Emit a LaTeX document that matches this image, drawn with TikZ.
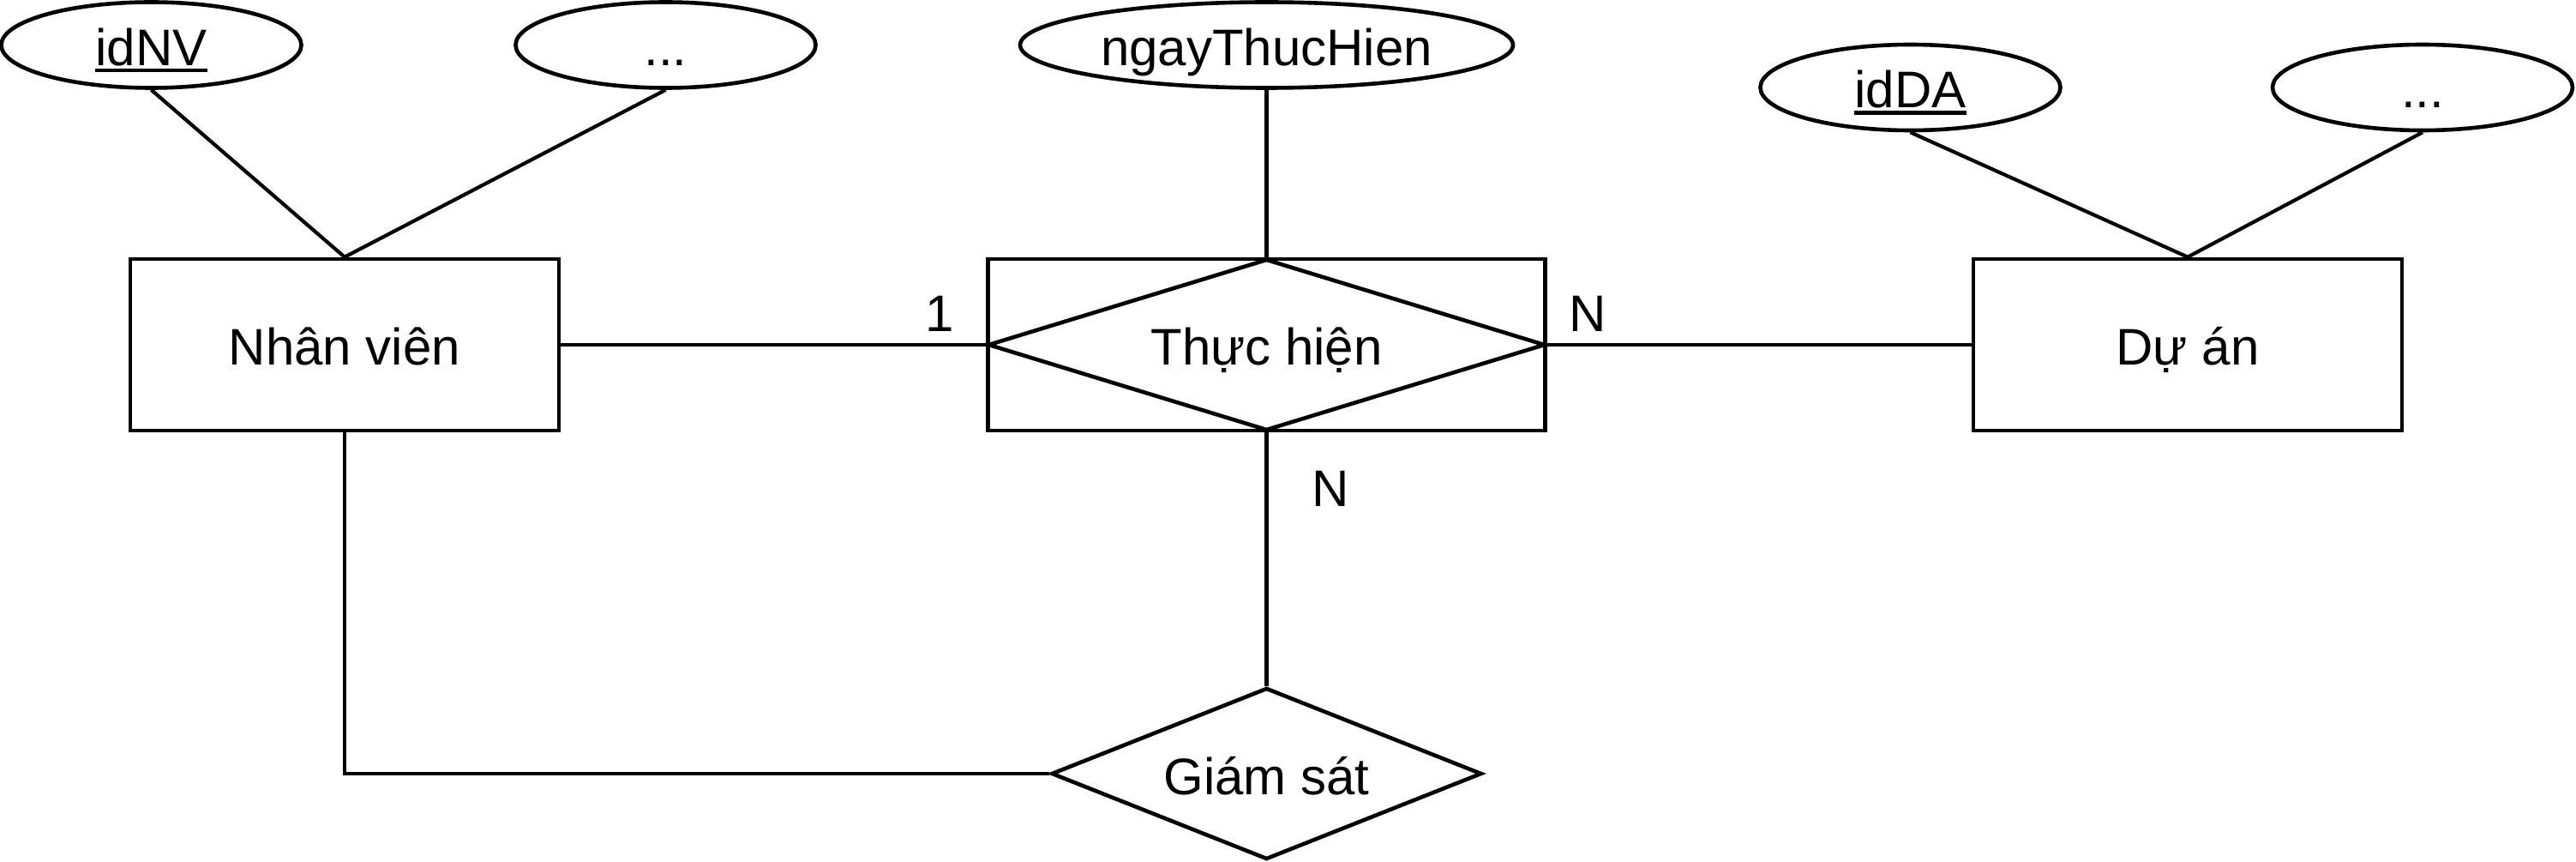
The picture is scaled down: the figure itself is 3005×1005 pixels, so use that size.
\documentclass[tikz,border=0pt]{standalone}
\usepackage{fontspec}
\setmainfont{Liberation Sans}
\usetikzlibrary{shapes.geometric}
\newcommand\pkey[1]{\setbox0=\hbox{#1}\rlap{\rule[-4pt]{\wd0}{2.25pt}}\box0}
\tikzset{
  lbl/.style={font=\fontsize{30pt}{36pt}\selectfont, text height=24pt, text depth=0pt, inner sep=0pt},
  entity/.style={lbl, draw, line width=2.3pt, rectangle, minimum width=250pt, minimum height=100pt},
  attr/.style={lbl, draw, line width=2.3pt, ellipse, minimum width=175pt, minimum height=50pt},
  rel/.style={lbl, draw, line width=2.3pt, diamond, aspect=2.5},
  conn/.style={line width=2.1pt},
  card/.style={lbl}
}
\begin{document}
\begin{tikzpicture}[x=0.5pt,y=-0.5pt]
\useasboundingbox (0,0) rectangle (3005,1005);
% entities
\node[entity] (nv) at (402,402) {Nhân viên};
\node[entity, minimum width=325pt] (th) at (1477.5,402) {};
\node[rel, minimum width=325pt, minimum height=100pt] (thd) at (1477.5,402) {Thực hiện};
\node[entity] (da) at (2552,402) {Dự án};
\node[rel, minimum width=251pt, minimum height=100pt] (gs) at (1477.5,902) {Giám sát};
% attributes
\node[attr] (idnv) at (176.5,52.5) {\pkey{idNV}};
\node[attr] (nvmore) at (776.5,52.5) {...};
\node[attr, minimum width=287.5pt] (ngay) at (1477.5,52.5) {ngayThucHien};
\node[attr] (idda) at (2228.5,102) {\pkey{idDA}};
\node[attr] (damore) at (2826,102) {...};
% connectors
\draw[conn] (idnv.south) -- (nv.north);
\draw[conn] (nvmore.south) -- (nv.north);
\draw[conn] (ngay.south) -- (thd.north);
\draw[conn] (idda.south) -- (da.north);
\draw[conn] (damore.south) -- (da.north);
\draw[conn] (nv.east) -- (thd.west);
\draw[conn] (thd.east) -- (da.west);
\draw[conn] (thd.south) -- (gs.north);
\draw[conn] (nv.south) |- (gs.west);
% cardinalities
\node[card] (c1) at (1096,363) {1};
\node[card] (c2) at (1852,363) {N};
\node[card] (c3) at (1552,566) {N};
\end{tikzpicture}
\end{document}
